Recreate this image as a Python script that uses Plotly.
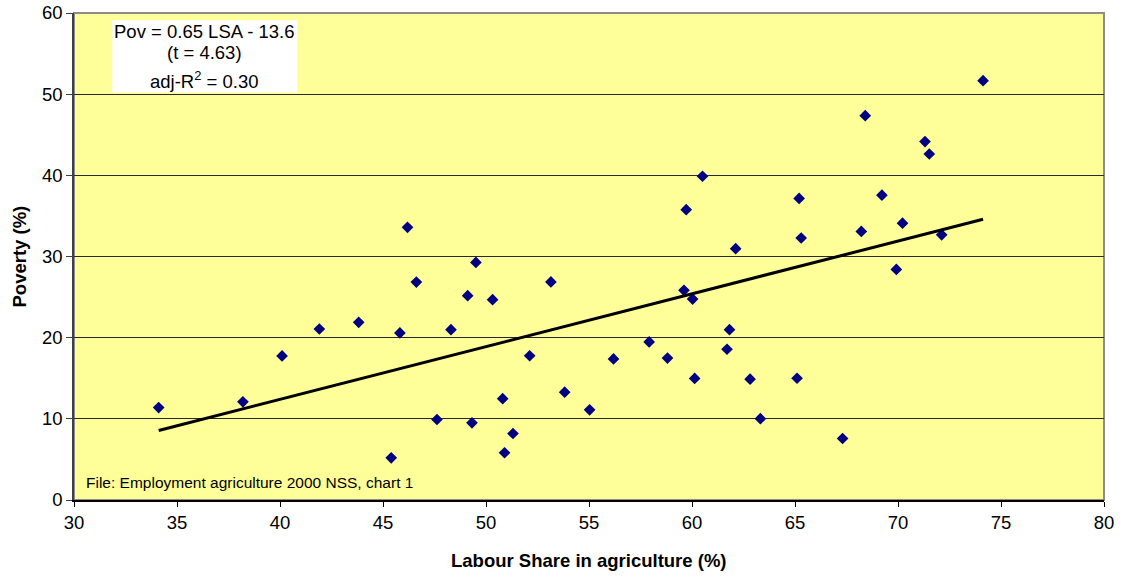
import plotly.graph_objects as go

# Labour share in agriculture (%) and poverty (%)
labour_share = [34.11, 38.20, 40.10, 41.91, 43.82, 45.40, 45.82, 46.19, 46.62, 47.62,
                48.30, 49.11, 49.32, 49.51, 50.32, 50.81, 50.90, 51.31, 52.12, 53.15,
                53.82, 55.03, 56.19, 57.92, 58.81, 59.61, 59.72, 60.03, 60.13, 60.51,
                61.70, 61.82, 62.12, 62.82, 63.32, 65.10, 65.20, 65.30, 67.31, 68.22,
                68.41, 69.22, 69.92, 70.22, 71.31, 71.52, 72.12, 74.13]
poverty = [11.39, 12.09, 17.75, 21.07, 21.89, 5.20, 20.58, 33.60, 26.85, 9.92,
           20.98, 25.17, 9.51, 29.27, 24.68, 12.48, 5.82, 8.19, 17.77, 26.87,
           13.28, 11.11, 17.38, 19.47, 17.48, 25.83, 35.77, 24.76, 14.98, 39.89,
           18.57, 20.98, 30.97, 14.88, 10.02, 15.00, 37.15, 32.28, 7.58, 33.09,
           47.35, 37.55, 28.41, 34.11, 44.16, 42.63, 32.67, 51.66]

# Regression reported on the chart
slope = 0.65
intercept = -13.6

x_ticks = [30, 35, 40, 45, 50, 55, 60, 65, 70, 75, 80]
y_ticks = [0, 10, 20, 30, 40, 50, 60]

FONT = "Liberation Sans, Arial, sans-serif"
FS = 18.5

trend_x = [min(labour_share), max(labour_share)]
trend_y = [slope * v + intercept for v in trend_x]

fig = go.Figure()
fig.add_trace(go.Scatter(
    x=labour_share, y=poverty, mode="markers",
    marker=dict(symbol="diamond", size=9, color="#000080",
                line=dict(width=0)),
    showlegend=False, hoverinfo="x+y"))
fig.add_trace(go.Scatter(
    x=trend_x, y=trend_y, mode="lines",
    line=dict(color="black", width=3),
    showlegend=False, hoverinfo="skip"))

# plot-area border (grey)
fig.add_shape(type="rect", xref="paper", yref="paper", x0=0, x1=1, y0=0, y1=1,
              line=dict(color="#8c8c8c", width=2), layer="below")

# white box behind the equation
fig.add_shape(type="rect", xref="x", yref="y", x0=31.86, x1=40.84, y0=50.2, y1=59.1,
              fillcolor="white", line=dict(width=0), layer="above")

eq_lines = ["Pov = 0.65 LSA - 13.6", "(t = 4.63)", "adj-R<sup>2</sup> = 0.30"]
eq_y = [57.7, 55.1, 51.8]
for txt, yy in zip(eq_lines, eq_y):
    fig.add_annotation(x=36.35, y=yy, xref="x", yref="y", text=txt,
                       showarrow=False, font=dict(family=FONT, size=FS, color="black"),
                       xanchor="center", yanchor="middle")

fig.add_annotation(x=0.0095, y=2.2, xref="paper", yref="y",
                   text="File: Employment agriculture 2000 NSS, chart 1",
                   showarrow=False, font=dict(family=FONT, size=15.5, color="black"),
                   xanchor="left", yanchor="middle")

# axis titles
fig.add_annotation(x=0.5, y=0, xref="paper", yref="paper", yshift=-60,
                   text="<b>Labour Share in agriculture (%)</b>", showarrow=False,
                   font=dict(family=FONT, size=FS, color="black"),
                   xanchor="center", yanchor="middle")
fig.add_annotation(x=0, y=0.5, xref="paper", yref="paper", xshift=-55,
                   text="<b>Poverty (%)</b>", showarrow=False, textangle=-90,
                   font=dict(family=FONT, size=FS, color="black"),
                   xanchor="center", yanchor="middle")

fig.update_layout(
    width=1122, height=577,
    margin=dict(l=74, r=18, t=13, b=77, autoexpand=False),
    paper_bgcolor="white",
    plot_bgcolor="#FFFF99",
    font=dict(family=FONT, size=FS, color="black"),
    xaxis=dict(range=[30, 80], tickvals=x_ticks, ticktext=[str(v) for v in x_ticks],
               showgrid=False, zeroline=False, showline=True, linecolor="black",
               linewidth=1.5, ticks="outside", ticklen=5, tickcolor="black",
               tickfont=dict(family=FONT, size=FS), automargin=False),
    yaxis=dict(range=[0, 60], tickvals=y_ticks, ticktext=[str(v) for v in y_ticks],
               showgrid=True, gridcolor="#2a2a2a", gridwidth=1,
               zeroline=False, showline=True, linecolor="#404040",
               linewidth=1.5, ticks="outside", ticklen=6, tickcolor="#404040",
               tickfont=dict(family=FONT, size=FS), automargin=False),
)

fig.write_html("out.html", config={"displayModeBar": False},
               post_script="document.body.style.margin='0';document.body.style.overflow='hidden';")
